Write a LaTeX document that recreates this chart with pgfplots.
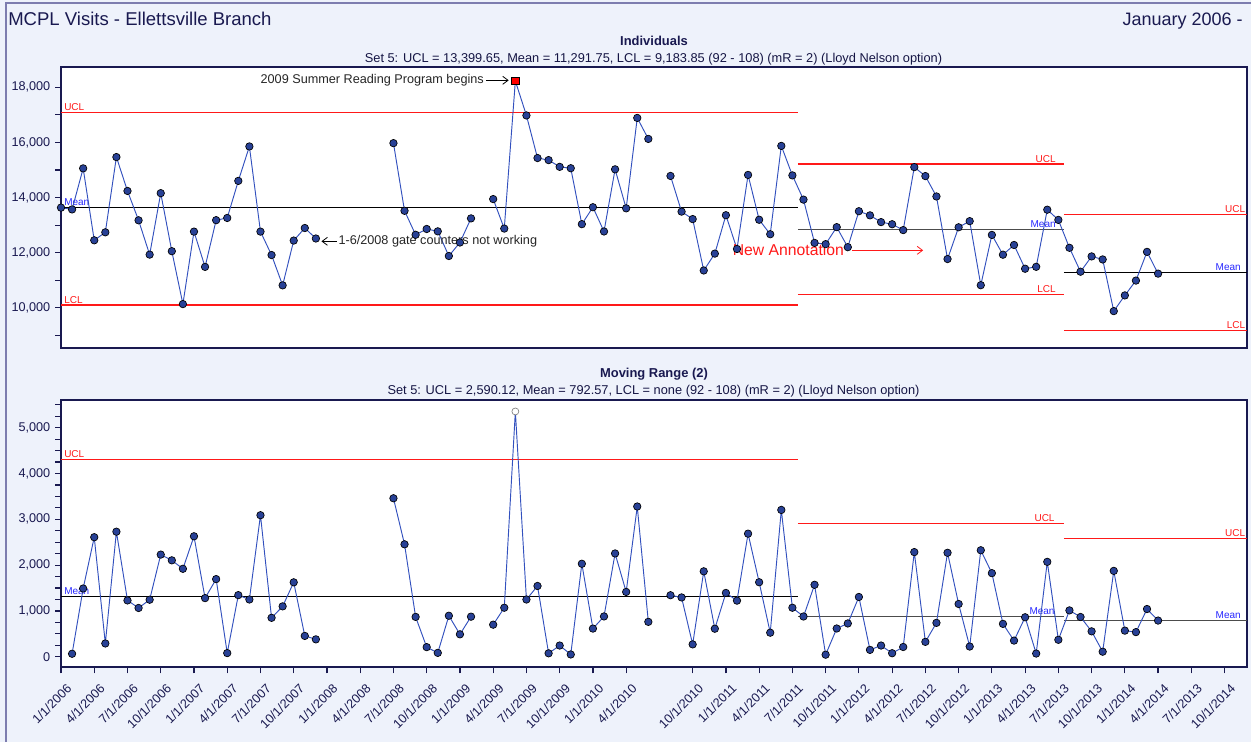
\documentclass[border=0pt]{standalone}
\usepackage{fontspec}
\setmainfont{Liberation Sans}
\usepackage{pgfplots}
\usepackage{pgfplotstable}
\pgfplotsset{compat=1.18}
\usetikzlibrary{arrows.meta}
\definecolor{bg}{RGB}{238,242,251}
\definecolor{navy}{RGB}{25,25,80}
\definecolor{dline}{RGB}{50,80,190}
\definecolor{dfill}{RGB}{40,65,150}
\definecolor{lred}{RGB}{255,25,25}
\definecolor{lblue}{RGB}{40,40,255}
\definecolor{frame}{RGB}{125,125,175}

\pgfplotstableread{
x y
0 13635
1 13570
2 15060
3 12450
4 12740
5 15470
6 14240
7 13175
8 11930
9 14160
10 12055
11 10135
12 12765
13 11485
14 13180
15 13260
16 14605
17 15855
18 12765
19 11915
20 10815
21 12440
22 12895
23 12515
24 nan
30 15975
31 13520
32 12650
33 12860
34 12775
35 11880
36 12370
37 13245
38 nan
39 13945
40 12875
41 18230
42 16980
43 15435
44 15360
45 15115
46 15065
47 13035
48 13650
49 12770
50 15025
51 13610
52 16890
53 16128
54 nan
55 14785
56 13490
57 13220
58 11355
59 11967
60 13360
61 12135
62 14822
63 13195
64 12670
65 15875
66 14805
67 13926
68 12355
69 12310
70 12927
71 12200
72 13505
73 13355
74 13110
75 13033
76 12820
77 15105
78 14780
79 14040
80 11770
81 12922
82 13145
83 10820
84 12645
85 11927
86 12280
87 11418
88 11488
89 13560
90 13190
91 12178
92 11310
93 11865
94 11755
95 9880
96 10450
97 10988
98 12030
99 11240
}\indiv

\pgfplotstableread{
x y
1 65
2 1490
3 2610
4 290
5 2730
6 1230
7 1065
8 1245
9 2230
10 2105
11 1920
12 2630
13 1280
14 1695
15 80
16 1345
17 1250
18 3090
19 850
20 1100
21 1625
22 455
23 380
24 nan
30 3460
31 2455
32 870
33 210
34 85
35 895
36 490
37 875
38 nan
39 700
40 1070
41 5355
42 1250
43 1545
44 75
45 245
46 50
47 2030
48 615
49 880
50 2255
51 1415
52 3280
53 762
54 nan
55 1343
56 1295
57 270
58 1865
59 612
60 1393
61 1225
62 2687
63 1627
64 525
65 3205
66 1070
67 879
68 1571
69 45
70 617
71 727
72 1305
73 150
74 245
75 77
76 213
77 2285
78 325
79 740
80 2270
81 1152
82 223
83 2325
84 1825
85 718
86 353
87 862
88 70
89 2072
90 370
91 1012
92 868
93 555
94 110
95 1875
96 570
97 538
98 1042
99 790
}\mrange

\pgfplotsset{
  spcstyle/.style={
    scale only axis, anchor=south west,
    width=889.3pt,
    xmin=0, xmax=107,
    axis line style={line width=1.3pt, draw=navy},
    tick align=outside,
    major tick length=4.5pt, minor tick length=4.5pt,
    every tick/.style={line width=0.9pt, draw=navy},
    yticklabel style={font=\fontsize{9.5}{11}\selectfont, text=navy},
    /pgf/number format/assume math mode=true,
    scaled y ticks=false,
    unbounded coords=jump, clip=false,
    axis background/.style={fill=white},
  },
  dataline/.style={color=dline, line width=0.7pt, no markers},
  datamarks/.style={only marks, mark=*, mark size=2.8pt, mark options={fill=dfill, draw=black, line width=0.5pt}},
  ucl/.style={color=lred, line width=0.9pt, no markers},
  mean/.style={color=black, line width=0.75pt, no markers},
}
\tikzset{lbl/.style={font=\fontsize{7.5}{9}\selectfont, inner sep=1pt}}

\begin{document}
\begin{tikzpicture}[x=0.75pt,y=0.75pt]
\fill[bg] (0,0) rectangle (1251,742);
\useasboundingbox (0,0) rectangle (1251,742);
\draw[frame, line width=0.8pt] (6,0) -- (6,739) -- (1251,739);

\node[anchor=base west, font=\fontsize{13.9}{16}\selectfont, text=navy, inner sep=0pt] at (8,716) {MCPL Visits - Ellettsville Branch};
\node[anchor=base east, font=\fontsize{13.5}{16}\selectfont, text=navy, inner sep=0pt] at (1243,716) {January 2006 -};

\node[anchor=base, font=\bfseries\fontsize{9.7}{11}\selectfont, text=navy, inner sep=0pt] at (654,696) {Individuals};
\node[anchor=base, font=\fontsize{9.6}{11}\selectfont, text=navy!85!black, inner sep=0pt] at (653.5,679.5) {Set 5: UCL = 13,399.65, Mean = 11,291.75, LCL = 9,183.85 (92 - 108) (mR = 2) (Lloyd Nelson option)};

\node[anchor=base, font=\bfseries\fontsize{9.7}{11}\selectfont, text=navy, inner sep=0pt] at (654,364) {Moving Range (2)};
\node[anchor=base, font=\fontsize{9.6}{11}\selectfont, text=navy!85!black, inner sep=0pt] at (653.5,347.5) {Set 5: UCL = 2,590.12, Mean = 792.57, LCL = none (92 - 108) (mR = 2) (Lloyd Nelson option)};

% ---------- Individuals ----------
\begin{axis}[spcstyle,
  at={(45.75pt,295.5pt)},
  height=210.5pt,
  ymin=8542, ymax=18726,
  xtick=\empty,
  ytick={10000,12000,14000,16000,18000},
  minor ytick={9000,11000,13000,15000,17000},
  ytick pos=left,
]
\addplot[ucl] coordinates {(0,17100) (66.5,17100)};
\addplot[ucl] coordinates {(0,10100) (66.5,10100)};
\addplot[mean] coordinates {(0,13635) (66.5,13635)};
\addplot[ucl] coordinates {(66.5,15215) (90.5,15215)};
\addplot[ucl] coordinates {(66.5,10485) (90.5,10485)};
\addplot[mean, color=black!70] coordinates {(66.5,12850) (90.5,12850)};
\addplot[ucl] coordinates {(90.5,13399.65) (107,13399.65)};
\addplot[ucl] coordinates {(90.5,9183.85) (107,9183.85)};
\addplot[mean] coordinates {(90.5,11291.75) (107,11291.75)};

\node[lbl, text=lred, anchor=south west] at (axis cs:0.15,17100) {UCL};
\node[lbl, text=lred, anchor=south west] at (axis cs:0.15,10100) {LCL};
\node[lbl, text=lblue, anchor=south west] at (axis cs:0.15,13635) {Mean};
\node[lbl, text=lred, anchor=south east] at (axis cs:89.9,15215) {UCL};
\node[lbl, text=lred, anchor=south east] at (axis cs:89.9,10485) {LCL};
\node[lbl, text=lblue, anchor=south east] at (axis cs:89.9,12850) {Mean};
\node[lbl, text=lred, anchor=south east] at (axis cs:107,13399.65) {UCL};
\node[lbl, text=lred, anchor=south east] at (axis cs:107,9183.85) {LCL};
\node[lbl, text=lblue, anchor=south east] at (axis cs:106.6,11291.75) {Mean};

\addplot[dataline] table[x=x,y=y] {\indiv};
\addplot[datamarks, skip coords between index={36}{37}] table[x=x,y=y] {\indiv};
\addplot[only marks, mark=square*, mark size=2.8pt, mark options={fill=red, draw=black, line width=0.5pt}] coordinates {(41,18230)};

\node[anchor=east, font=\fontsize{9.5}{11}\selectfont, text=black!85, inner sep=1pt] at (axis cs:38.3,18254) {2009 Summer Reading Program begins};
\draw[-{Straight Barb[length=4pt,width=6pt]}, black, line width=0.6pt] (axis cs:38.35,18254) -- (axis cs:40.4,18254);
\draw[-{Straight Barb[length=4pt,width=6pt]}, black, line width=0.6pt] (axis cs:24.9,12413) -- (axis cs:23.5,12413);
\node[anchor=west, font=\fontsize{9.5}{11}\selectfont, text=black!85, inner sep=1pt] at (axis cs:24.9,12413) {1-6/2008 gate counters not working};
\node[anchor=west, font=\fontsize{11.8}{13}\selectfont, text=lred, inner sep=0pt] at (axis cs:60.6,12086) {New Annotation};
\draw[-{Straight Barb[length=4pt,width=6pt]}, lred, line width=0.6pt] (axis cs:71.4,12086) -- (axis cs:77.8,12086);
\end{axis}

% ---------- Moving range ----------
\begin{axis}[spcstyle,
  at={(45.75pt,56.0pt)},
  height=200.5pt,
  ymin=-231, ymax=5605,
  ytick={0,1000,2000,3000,4000,5000},
  minor ytick={-250,250,500,750,1250,1500,1750,2250,2500,2750,3250,3500,3750,4250,4500,4750,5250,5500},
  ytick pos=left, xtick pos=bottom,
  xtick={0,3,6,9,12,15,18,21,24,27,30,33,36,39,42,45,48,51,57,60,63,66,69,72,75,78,81,84,87,90,93,96,99,102,105},
  xticklabels={1/1/2006,4/1/2006,7/1/2006,10/1/2006,1/1/2007,4/1/2007,7/1/2007,10/1/2007,1/1/2008,4/1/2008,7/1/2008,10/1/2008,1/1/2009,4/1/2009,7/1/2009,10/1/2009,1/1/2010,4/1/2010,10/1/2010,1/1/2011,4/1/2011,7/1/2011,10/1/2011,1/1/2012,4/1/2012,7/1/2012,10/1/2012,1/1/2013,4/1/2013,7/1/2013,10/1/2013,1/1/2014,4/1/2014,7/1/2013,10/1/2014},
  xticklabel style={font=\fontsize{9.5}{10}\selectfont, text=navy, xshift=7pt, yshift=-9pt, rotate=45, anchor=east, inner sep=1pt},
]
\addplot[ucl] coordinates {(0,4306) (66.5,4306)};
\addplot[mean] coordinates {(0,1318) (66.5,1318)};
\addplot[ucl] coordinates {(66.5,2905) (90.5,2905)};
\addplot[mean, color=black!70] coordinates {(66.5,889) (90.5,889)};
\addplot[ucl] coordinates {(90.5,2590.12) (107,2590.12)};
\addplot[mean, color=black!70] coordinates {(90.5,792.57) (107,792.57)};

\node[lbl, text=lred, anchor=south west] at (axis cs:0.15,4306) {UCL};
\node[lbl, text=lblue, anchor=south west] at (axis cs:0.15,1318) {Mean};
\node[lbl, text=lred, anchor=south east] at (axis cs:89.8,2905) {UCL};
\node[lbl, text=lblue, anchor=south east] at (axis cs:89.8,889) {Mean};
\node[lbl, text=lred, anchor=south east] at (axis cs:107,2590.12) {UCL};
\node[lbl, text=lblue, anchor=south east] at (axis cs:106.6,792.57) {Mean};

\addplot[dataline] table[x=x,y=y] {\mrange};
\addplot[datamarks, skip coords between index={35}{36}] table[x=x,y=y] {\mrange};
\addplot[only marks, mark=*, mark size=2.6pt, mark options={fill=white, draw=gray, line width=0.5pt}] coordinates {(41,5355)};
\end{axis}
\end{tikzpicture}
\end{document}
